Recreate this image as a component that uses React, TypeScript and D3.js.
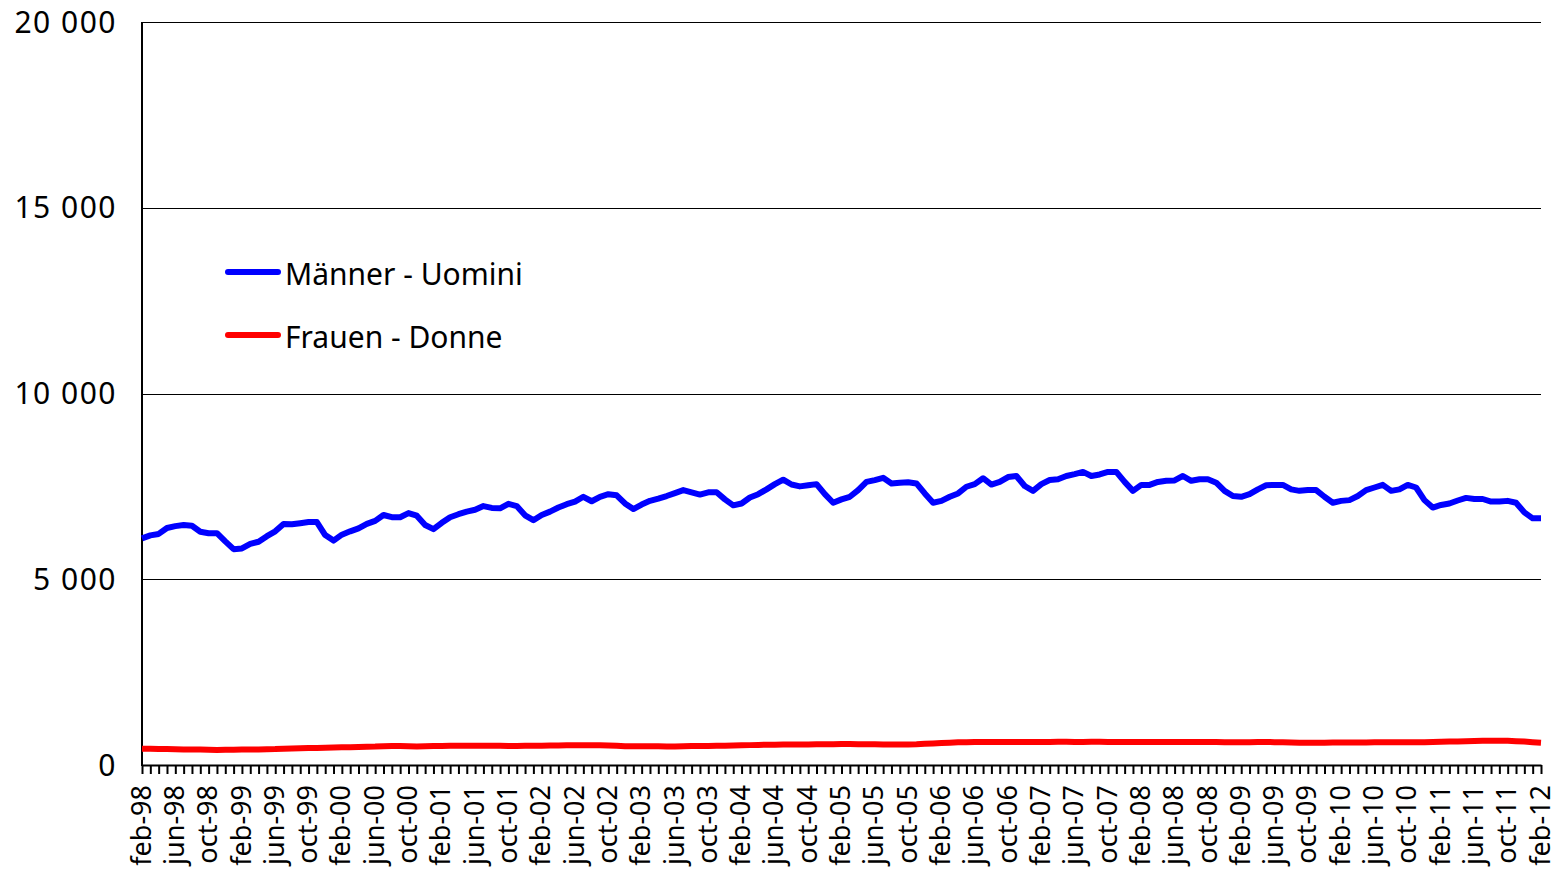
import { useEffect, useRef } from "react";
import * as d3 from "d3";

const monthNames = ["jan", "feb", "mar", "apr", "may", "jun", "jul", "aug", "sep", "oct", "nov", "dec"];

// feb-98 .. feb-12, monthly
const categories: string[] = [];
for (let k = 0; k < 169; k++) {
  const m = (1 + k) % 12;
  const yr = (98 + Math.floor((1 + k) / 12)) % 100;
  categories.push(`${monthNames[m]}-${String(yr).padStart(2, "0")}`);
}

const maenner = [
  6100, 6180, 6220, 6380, 6430, 6460, 6440, 6280, 6240, 6240, 6020, 5810,
  5830, 5950, 6010, 6160, 6290, 6490, 6480, 6510, 6540, 6540, 6190, 6040,
  6200, 6290, 6370, 6490, 6570, 6730, 6670, 6670, 6780, 6710, 6460, 6350,
  6520, 6670, 6750, 6820, 6870, 6970, 6920, 6910, 7030, 6970, 6720, 6590,
  6730, 6820, 6930, 7020, 7090, 7220, 7100, 7220, 7290, 7260, 7040, 6890,
  7010, 7110, 7170, 7240, 7320, 7400, 7340, 7280, 7340, 7340, 7150, 6990,
  7040, 7200, 7290, 7420, 7560, 7680, 7550, 7500, 7530, 7560, 7290, 7060,
  7150, 7220, 7400, 7620, 7670, 7730, 7580, 7600, 7610, 7580, 7310, 7060,
  7110, 7220, 7310, 7490, 7560, 7720, 7550, 7620, 7750, 7780, 7510, 7380,
  7560, 7670, 7690, 7780, 7830, 7890, 7780, 7820, 7890, 7890, 7620, 7380,
  7540, 7540, 7620, 7650, 7660, 7780, 7650, 7690, 7690, 7600, 7380, 7240,
  7220, 7290, 7420, 7530, 7540, 7540, 7420, 7380, 7400, 7400, 7220, 7060,
  7110, 7130, 7240, 7400, 7470, 7540, 7380, 7420, 7540, 7470, 7130, 6930,
  7000, 7040, 7120, 7190, 7160, 7160, 7090, 7090, 7110, 7060, 6800, 6640,
  6640,
];

const frauen = [
  440, 435, 430, 430, 425, 420, 420, 415, 410, 405, 410, 410,
  415, 420, 420, 425, 430, 440, 445, 450, 455, 460, 465, 470,
  475, 480, 485, 490, 495, 505, 510, 510, 505, 500, 505, 510,
  510, 515, 515, 520, 520, 520, 515, 515, 510, 510, 515, 520,
  520, 525, 525, 530, 530, 535, 535, 530, 525, 515, 505, 505,
  505, 505, 505, 500, 500, 505, 510, 510, 510, 515, 520, 525,
  530, 535, 540, 545, 545, 550, 550, 555, 555, 560, 560, 560,
  565, 565, 560, 560, 560, 555, 555, 555, 555, 560, 570, 580,
  590, 600, 610, 615, 620, 620, 620, 620, 620, 620, 620, 620,
  620, 620, 625, 625, 620, 620, 625, 625, 620, 620, 620, 620,
  620, 620, 620, 620, 620, 620, 620, 620, 620, 620, 615, 615,
  615, 615, 620, 620, 615, 610, 605, 600, 600, 600, 600, 605,
  605, 605, 605, 605, 610, 610, 610, 610, 610, 615, 615, 620,
  625, 630, 635, 640, 645, 650, 655, 655, 650, 640, 630, 615,
  600,
];

const yTicks = [0, 5000, 10000, 15000, 20000];

const series = [
  { label: "Männer - Uomini", values: maenner, color: "#0000ff" },
  { label: "Frauen - Donne", values: frauen, color: "#ff0000" },
];

const FONT = "'Noto Sans', 'DejaVu Sans', sans-serif";

const App = () => {
  const svgRef = useRef<SVGSVGElement>(null);

  useEffect(() => {
    const svg = d3.select(svgRef.current);
    svg.selectAll("*").remove();

    const left = 142;
    const right = 1541;
    const top = 22;
    const bottom = 765;

    const x = d3.scalePoint<string>().domain(categories).range([left, right]);
    const y = d3.scaleLinear().domain([0, 20000]).range([bottom, top]);

    const fmt = d3
      .formatLocale({ decimal: ",", thousands: " ", grouping: [3], currency: ["", ""] })
      .format(",");

    // gridlines
    svg
      .append("g")
      .selectAll("line")
      .data(yTicks.filter((d) => d > 0))
      .enter()
      .append("line")
      .attr("x1", left)
      .attr("x2", right)
      .attr("y1", (d) => Math.round(y(d)) + 0.5)
      .attr("y2", (d) => Math.round(y(d)) + 0.5)
      .attr("stroke", "#000")
      .attr("stroke-width", 1);

    // y labels
    svg
      .append("g")
      .selectAll("text")
      .data(yTicks)
      .enter()
      .append("text")
      .attr("x", 117)
      .attr("y", (d) => y(d))
      .attr("dy", "0.35em")
      .attr("text-anchor", "end")
      .style("font-family", FONT)
      .style("font-size", "30px")
      .style("letter-spacing", "1.5px")
      .attr("fill", "#000")
      .text((d) => fmt(d));

    // x axis
    const xAxis = svg
      .append("g")
      .attr("transform", `translate(0,${bottom})`)
      .call(
        d3
          .axisBottom(x)
          .tickSize(9)
          .tickSizeOuter(0)
          .tickFormat((d, i) => (i % 4 === 0 ? d : ""))
      );
    xAxis.select(".domain").attr("stroke", "#000").attr("stroke-width", 2);
    xAxis.selectAll(".tick line").attr("stroke", "#000").attr("stroke-width", 2);
    xAxis
      .selectAll(".tick text")
      .attr("transform", "rotate(-90)")
      .attr("x", -20)
      .attr("y", 0)
      .attr("dy", "0.3em")
      .attr("text-anchor", "end")
      .attr("fill", "#000")
      .style("font-family", FONT)
      .style("font-size", "27px");

    // left axis
    svg
      .append("line")
      .attr("x1", left)
      .attr("x2", left)
      .attr("y1", top)
      .attr("y2", bottom + 1)
      .attr("stroke", "#000")
      .attr("stroke-width", 2);

    const line = d3
      .line<number>()
      .x((d, i) => x(categories[i]) as number)
      .y((d) => y(d));

    series
      .slice()
      .reverse()
      .forEach((s) => {
        svg
          .append("path")
          .datum(s.values)
          .attr("d", line)
          .attr("fill", "none")
          .attr("stroke", s.color)
          .attr("stroke-width", 6)
          .attr("stroke-linejoin", "round");
      });

    // legend
    const legend = svg
      .append("g")
      .selectAll("g")
      .data(series)
      .enter()
      .append("g")
      .attr("transform", (d, i) => `translate(228, ${272 + i * 63})`);

    legend
      .append("line")
      .attr("x1", 0)
      .attr("x2", 50)
      .attr("stroke", (d) => d.color)
      .attr("stroke-width", 6)
      .attr("stroke-linecap", "round");

    legend
      .append("text")
      .attr("x", 57)
      .attr("y", 2)
      .attr("dy", "0.35em")
      .style("font-family", FONT)
      .style("font-size", "30px")
      .attr("fill", "#000")
      .text((d) => d.label);
  }, []);

  return (
    <svg
      ref={svgRef}
      width={1556}
      height={877}
      style={{ position: "absolute", left: 0, top: 0, background: "#fff" }}
    ></svg>
  );
};

export default App;
